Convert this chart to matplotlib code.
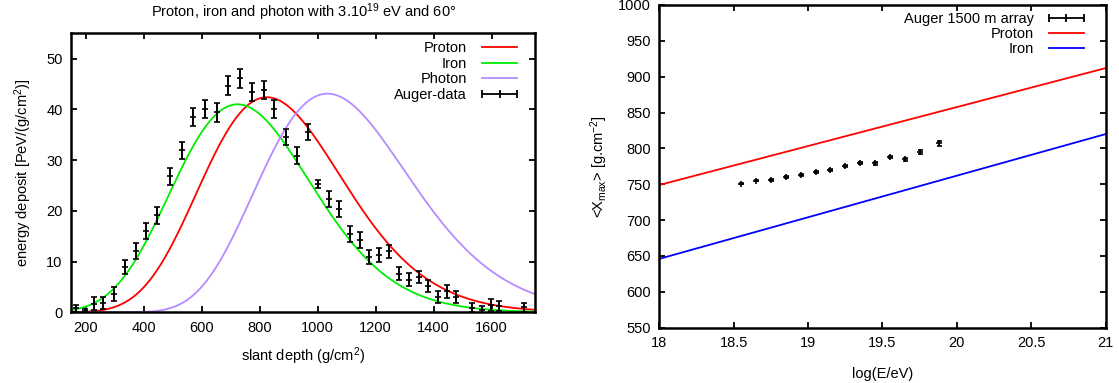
import numpy as np
import matplotlib
matplotlib.use("Agg")
import matplotlib.pyplot as plt
from matplotlib.lines import Line2D

plt.rcParams['font.family'] = ['Liberation Sans', 'DejaVu Sans']
plt.rcParams['mathtext.default'] = 'regular'
plt.rcParams['font.size'] = 10

# ---- Longitudinal profile: Auger data points ----
depth = [167, 199, 230, 261, 299, 335, 374, 410, 448, 491, 531, 571, 613, 652,
         692, 732, 774, 814, 851, 891, 929, 966, 1001, 1040, 1075, 1112, 1146,
         1178, 1212, 1247, 1282, 1316, 1348, 1379, 1414, 1445, 1476, 1534, 1566,
         1598, 1625, 1711]
edep = [0.8, 0.3, 1.7, 1.9, 3.6, 9.0, 12.1, 16.0, 19.1, 26.8, 31.9, 38.5, 40.1,
        39.4, 44.7, 46.1, 43.4, 43.8, 40.1, 34.6, 30.9, 35.6, 25.3, 22.3, 20.4,
        15.5, 14.3, 10.9, 11.3, 12.0, 7.6, 6.4, 7.0, 5.2, 3.0, 4.1, 3.0, 0.9,
        0.4, 1.5, 1.3, 1.0]
edep_err = [0.7, 0.4, 1.3, 1.2, 1.3, 1.4, 1.5, 1.6, 1.6, 1.7, 1.7, 1.8, 1.8,
            1.8, 1.9, 1.9, 1.8, 1.8, 1.8, 1.6, 1.6, 1.6, 0.7, 1.6, 1.6, 1.6,
            1.6, 1.4, 1.4, 1.3, 1.3, 1.3, 1.2, 1.2, 1.2, 1.2, 1.2, 0.9, 0.9,
            1.2, 1.0, 0.9]

# ---- Gaisser-Hillas model parameters (reduced form) per primary ----
primaries = ['Proton', 'Iron', 'Photon']
gh_xmax = [825, 724, 1034]      # g/cm^2
gh_emax = [42.4, 41.0, 43.1]    # PeV/(g/cm^2)
gh_L = [245, 240, 260]          # g/cm^2
gh_R = [0.25, 0.22, 0.30]
primary_colors = ['#ff0000', '#00ee00', '#b58cff']

# ---- Mean Xmax vs energy ----
logE = [18.55, 18.65, 18.75, 18.85, 18.95, 19.05, 19.15, 19.25, 19.35, 19.45,
        19.55, 19.65, 19.75, 19.88]
xmax_mean = [751, 755, 756, 760, 763, 767, 770, 775, 780, 779, 788, 785, 795, 807]
xmax_err = [1.0, 1.0, 1.0, 1.0, 1.2, 1.2, 1.3, 1.5, 1.5, 1.7, 1.8, 2.0, 2.5, 3.0]

model_logE = [18.0, 21.0]
proton_xmax = [749, 912]
iron_xmax = [646, 820]


def gaisser_hillas(x, xm, emax, L, R):
    t = x - xm
    arg = 1.0 + R * t / L
    out = np.zeros_like(x)
    ok = arg > 0
    out[ok] = emax * np.exp(np.log(arg[ok]) / R**2 - t[ok] / (R * L))
    return out


def style_frame(ax):
    for s in ax.spines.values():
        s.set_linewidth(1.8)
    ax.tick_params(which='both', direction='in', top=True, right=True,
                   length=4.5, width=1.3, labelsize=10.5, pad=6)


fig = plt.figure(figsize=(11.19, 3.83), dpi=100)

# ---------------- left panel ----------------
ax1 = fig.add_axes([0.0635, 0.1846, 0.4147, 0.7285])
xs = np.linspace(150, 1750, 800)
handles = []
for name, xm, em, L, R, c in zip(primaries, gh_xmax, gh_emax, gh_L, gh_R,
                                 primary_colors):
    ln, = ax1.plot(xs, gaisser_hillas(xs, xm, em, L, R), color=c, lw=1.3)
    handles.append(ln)
ax1.errorbar(depth, edep, yerr=edep_err, fmt='+', color='black', ms=4,
             mew=1.2, elinewidth=1.4, capsize=2.4, capthick=1.4)
aug_handle = Line2D([], [], color='black', lw=1.3, marker='|', ms=6, mew=1.3)
ax1.legend(handles + [aug_handle], primaries + ['Auger-data'],
           loc='upper right', frameon=False, markerfirst=False,
           numpoints=3, handlelength=3.0, handletextpad=0.75,
           labelspacing=0.1, fontsize=10.5, borderaxespad=0.0,
           bbox_to_anchor=(0.983, 0.992))
ax1.set_xlim(150, 1750)
ax1.set_ylim(0, 55)
ax1.set_xticks(np.arange(200, 1601, 200))
ax1.set_yticks(np.arange(0, 51, 10))
style_frame(ax1)
ax1.set_xlabel('slant depth (g/cm$^2$)', fontsize=10.5, labelpad=8)
ax1.set_ylabel('energy deposit [PeV/(g/cm$^2$)]', fontsize=10.5, labelpad=9)
ax1.set_title('Proton, iron and photon with 3.10$^{19}$ eV and 60°',
              fontsize=10.5, pad=12)

# ---------------- right panel ----------------
ax2 = fig.add_axes([0.5892, 0.1444, 0.3989, 0.8426])
ax2.errorbar(logE, xmax_mean, yerr=xmax_err, fmt='+', color='black', ms=4,
             mew=1.2, elinewidth=1.3, capsize=1.8, capthick=1.3)
p_ln, = ax2.plot(model_logE, proton_xmax, color='#ff0000', lw=1.3)
i_ln, = ax2.plot(model_logE, iron_xmax, color='#0000ff', lw=1.3)
aug2 = Line2D([], [], color='black', lw=1.3, marker='|', ms=6, mew=1.3)
ax2.legend([aug2, p_ln, i_ln], ['Auger 1500 m array', 'Proton', 'Iron'],
           loc='upper right', frameon=False, markerfirst=False, numpoints=3,
           handlelength=3.0, handletextpad=0.75, labelspacing=0.05,
           fontsize=10.5, borderaxespad=0.0, bbox_to_anchor=(0.974, 0.995))
ax2.set_xlim(18, 21)
ax2.set_ylim(550, 1000)
ax2.set_xticks(np.arange(18, 21.01, 0.5))
ax2.set_xticklabels(['18', '18.5', '19', '19.5', '20', '20.5', '21'])
ax2.set_yticks(np.arange(550, 1001, 50))
style_frame(ax2)
ax2.set_xlabel('log(E/eV)', fontsize=10.5, labelpad=12)
ax2.set_ylabel('<X$_{max}$> [g.cm$^{-2}$]', fontsize=10.5, labelpad=6)

fig.savefig('out.png', dpi=100)
